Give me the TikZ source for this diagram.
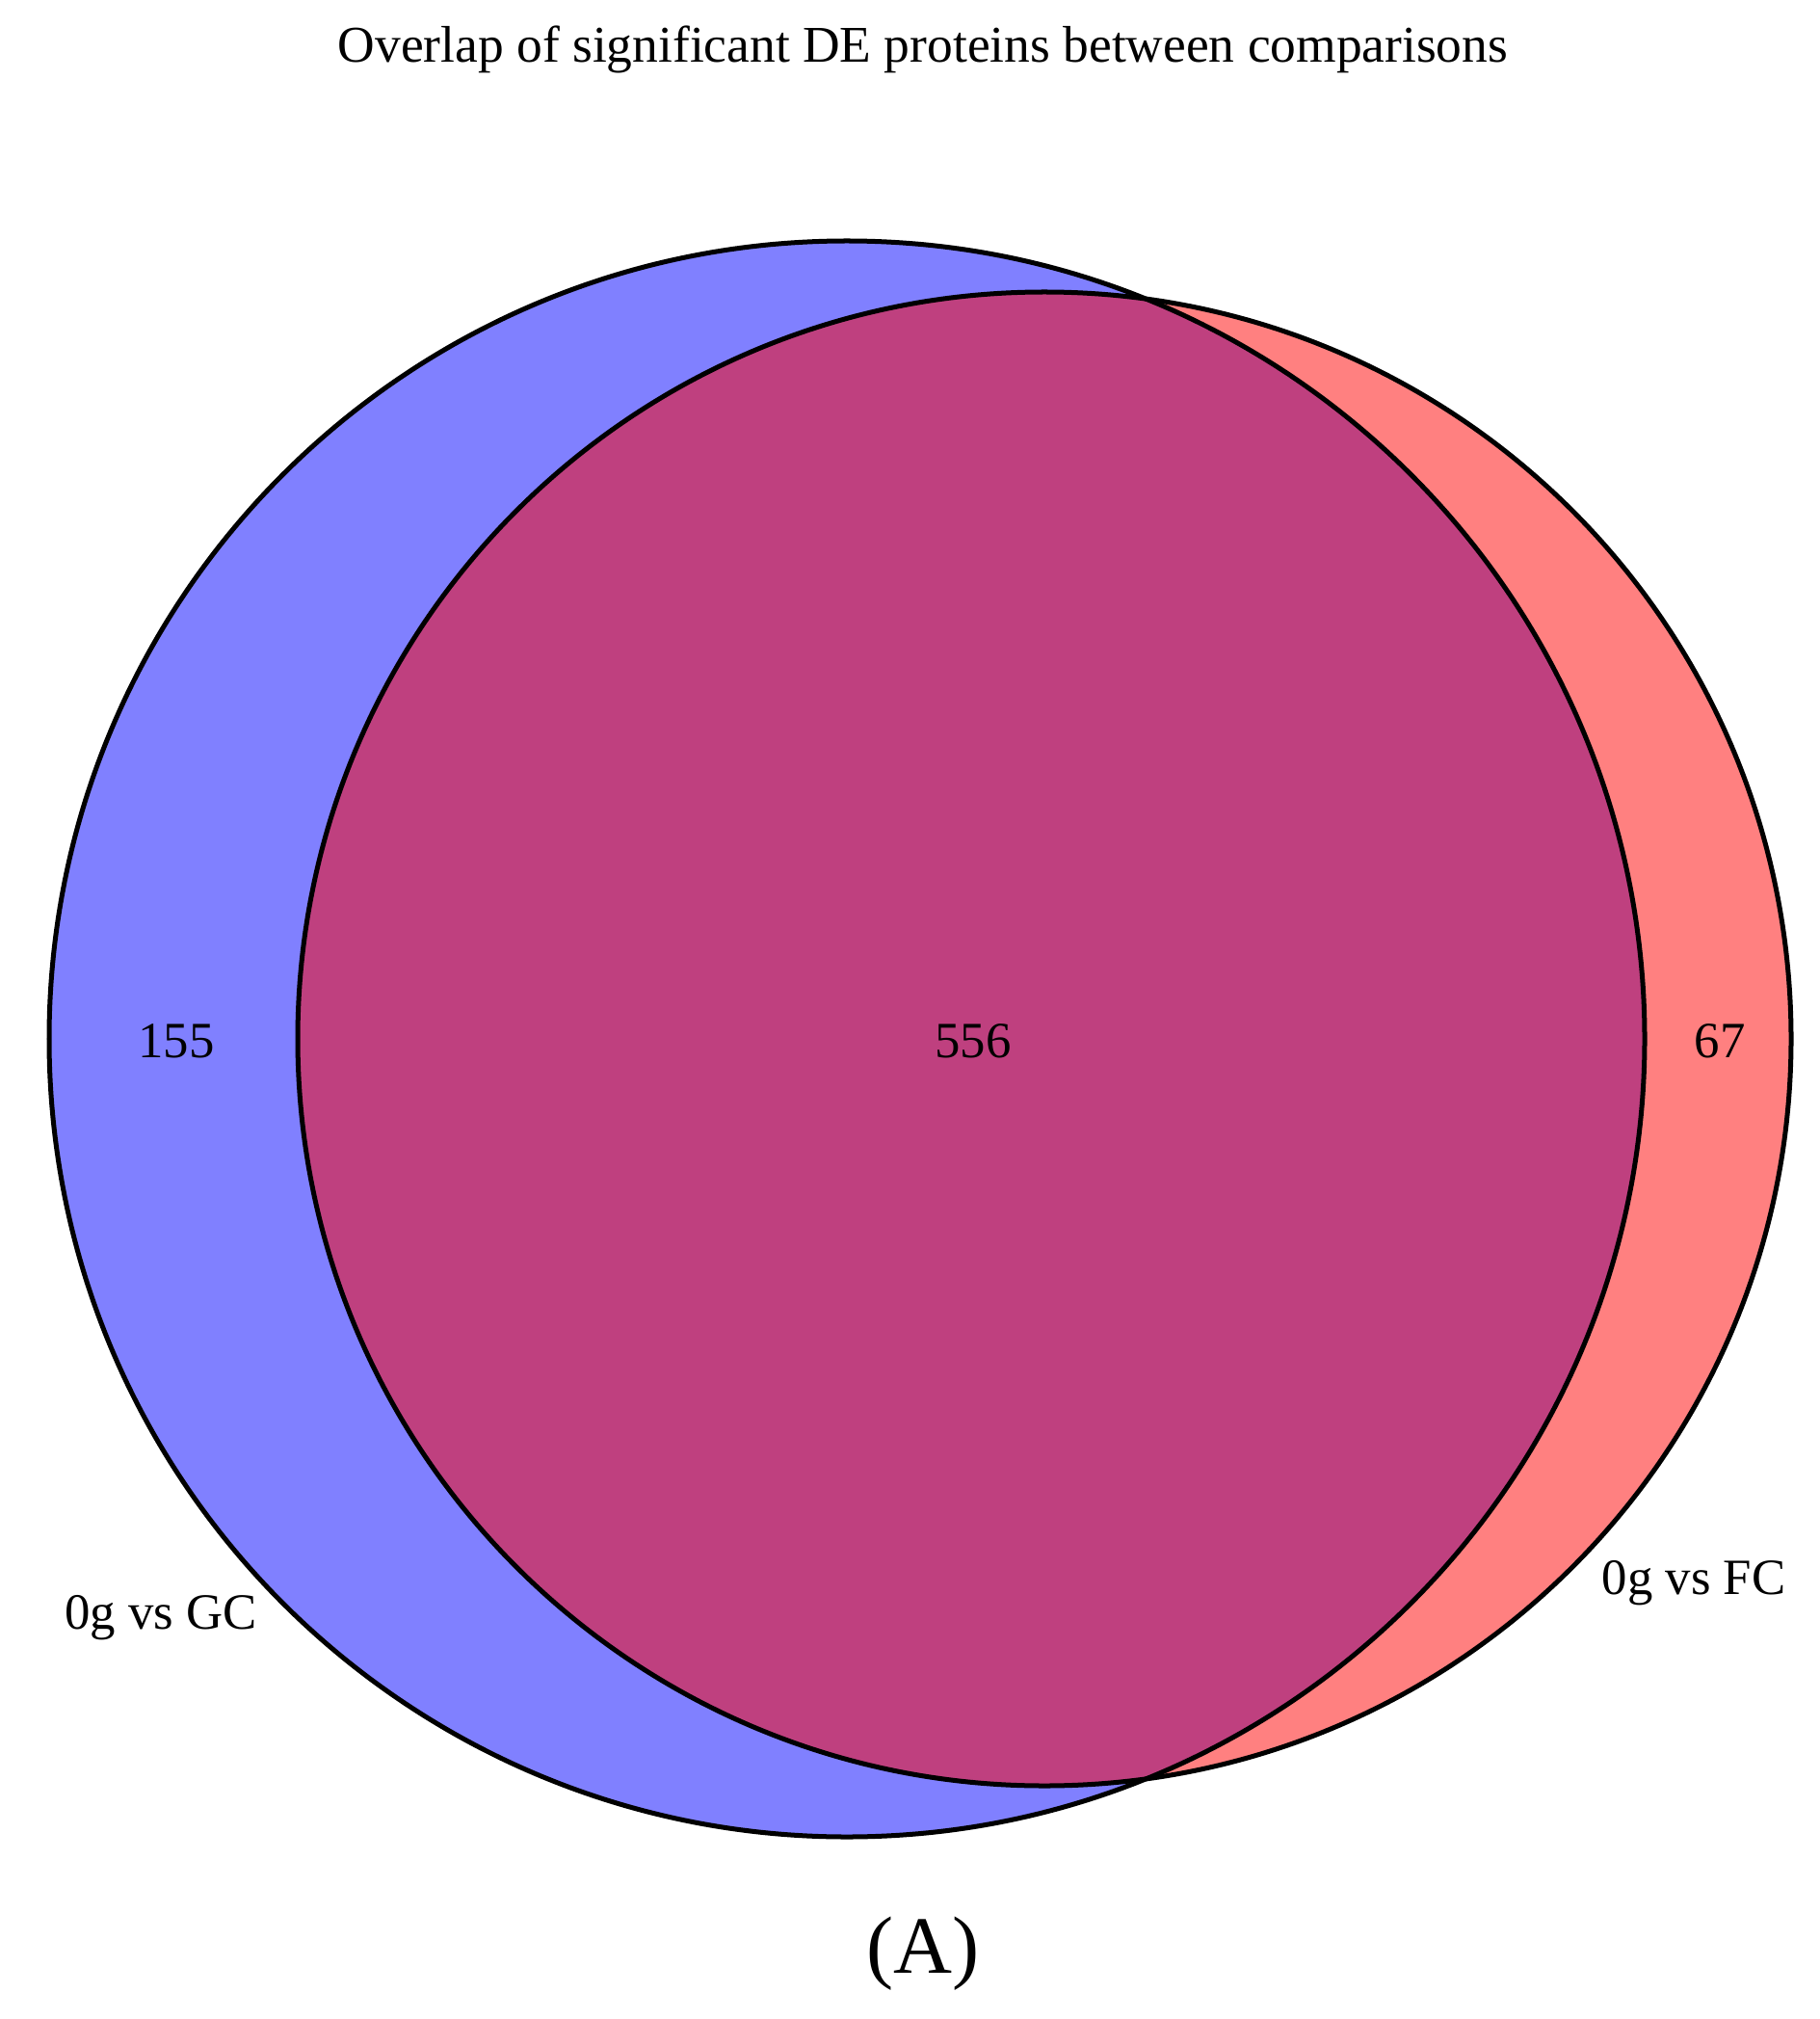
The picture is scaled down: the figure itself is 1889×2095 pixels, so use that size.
\documentclass[tikz,border=0pt]{standalone}
\usepackage{fontspec}
\setmainfont{Liberation Serif}
\definecolor{vblue}{HTML}{8080FF}
\definecolor{vred}{HTML}{FF8080}
\definecolor{vpurple}{HTML}{BF407F}
\begin{document}
\begin{tikzpicture}[x=0.01cm,y=-0.01cm,
  lbl/.style={inner sep=0pt,font=\fontsize{15}{18}\selectfont},
  outline/.style={draw=black,line width=0.05cm}]
\useasboundingbox[fill=white] (0,0) rectangle (1889,2095);
\coordinate (cb) at (879,1078);
\coordinate (cr) at (1084,1078);
\fill[vblue] (cb) circle[radius=828];
\fill[vred] (cr) circle[radius=775];
\begin{scope}
  \clip (cb) circle[radius=828];
  \fill[vpurple] (cr) circle[radius=775];
\end{scope}
\draw[outline] (cb) circle[radius=828];
\draw[outline] (cr) circle[radius=775];
\node[lbl,font=\fontsize{15.2}{18}\selectfont] (title) at (958,51) {Overlap of significant DE proteins between comparisons};
\node[lbl] (n155) at (183,1080) {155};
\node[lbl] (n556) at (1010,1080) {556};
\node[lbl] (n67) at (1785,1080) {67};
\node[lbl] (lgc) at (167,1679) {0g vs GC};
\node[lbl] (lfc) at (1758,1643) {0g vs FC};
\node[lbl,font=\fontsize{24}{28}\selectfont] (lA) at (958,2027) {(A)};
\end{tikzpicture}
\end{document}
